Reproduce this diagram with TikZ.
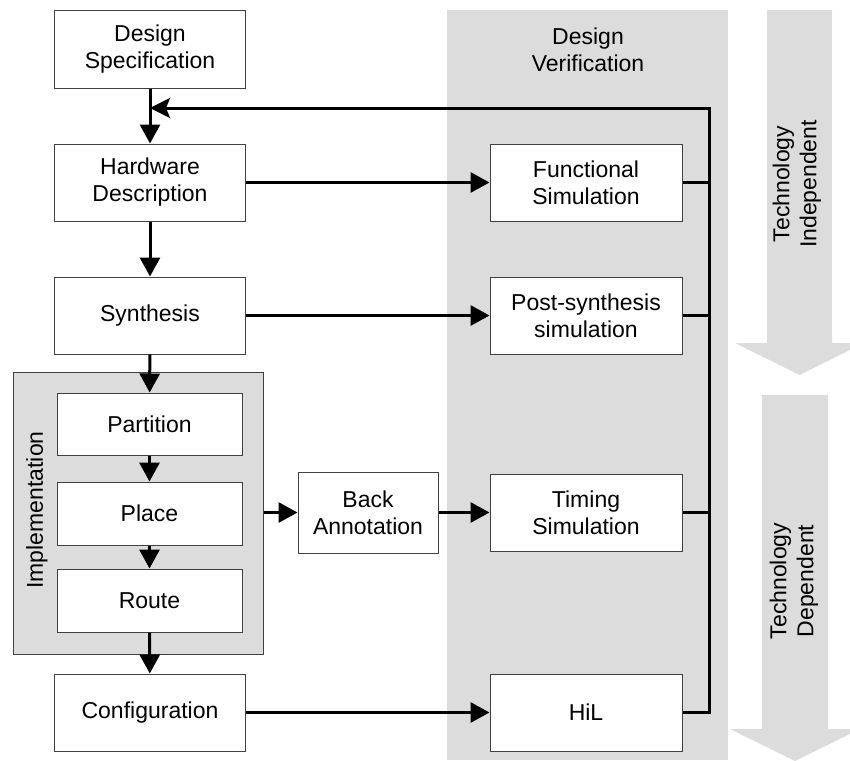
\documentclass[tikz,border=0pt]{standalone}
\usepackage{fontspec}
\setmainfont{Liberation Sans}
\usetikzlibrary{arrows.meta,calc}
\definecolor{panel}{HTML}{DCDCDC}
\definecolor{edge}{HTML}{404040}
\begin{document}
\begin{tikzpicture}[x=1pt,y=-1pt,
  every node/.style={font=\fontsize{23}{27}\selectfont, inner sep=0pt, align=center},
  stagebox/.style={draw=edge, line width=1pt, fill=white, minimum width=#1, minimum height=77pt},
  stagebox/.default=191pt,
  line/.style={line width=3pt},
  conn/.style={line width=3pt, -{Triangle[length=19pt,width=20pt]}},
  back/.style={line width=3pt, -{Stealth[length=20pt,width=20pt,inset=4pt]}}]
\useasboundingbox (0,0) rectangle (850,760);
\clip (0,0) rectangle (850,760);

% verification column
\fill[panel] (447,10) rectangle (728,760);
\node at (588,49.5) {Design\\Verification};

% technology phase arrows
\fill[panel] (767,10) -- (832,10) -- (832,343) -- (864,343) -- (799.5,375)
  -- (735,343) -- (767,343) -- cycle;
\fill[panel] (762,395) -- (828,395) -- (828,729) -- (860,729) -- (795,761)
  -- (730,729) -- (762,729) -- cycle;
\node[rotate=90] at (797,184) {Technology\\Independent};
\node[rotate=90] at (794,581) {Technology\\Dependent};

% design flow
\node[stagebox] (spec) at (150,49.5) {Design\\Specification};
\node[stagebox] (hw) at (150,182.5) {Hardware\\Description};
\node[stagebox] (syn) at (150,315.5) {Synthesis};
\node[draw=edge, line width=1pt, fill=panel, minimum width=250pt, minimum height=282pt]
  (impl) at (138,513) {};
\node[rotate=90] at (37,510) {Implementation};
\node[stagebox=185pt, minimum height=62pt] (part) at (149.5,424) {Partition};
\node[stagebox=185pt, minimum height=63pt] (place) at (149.5,513.5) {Place};
\node[stagebox=185pt, minimum height=63pt] (route) at (149.5,600.5) {Route};
\node[stagebox] (config) at (150,712.5) {Configuration};
\node[stagebox=140pt, minimum height=81pt] (ann) at (368,512.5) {Back\\Annotation};

% verification stages
\node[stagebox=192pt] (func) at (586,182.5) {Functional\\Simulation};
\node[stagebox=192pt] (post) at (586,315.5) {Post-synthesis\\simulation};
\node[stagebox=192pt] (timing) at (586,512.5) {Timing\\Simulation};
\node[stagebox=192pt] (hil) at (586,712.5) {HiL};

% flow connectors
\draw[conn] (spec) -- (hw);
\draw[conn] (hw) -- (syn);
\draw[conn] (syn) -- (part);
\draw[conn] (part) -- (place);
\draw[conn] (place) -- (route);
\draw[conn] (route) -- (config);
\draw[conn] (impl.east |- ann.west) -- (ann.west);
\draw[conn] (ann) -- (timing);
\draw[conn] (hw) -- (func);
\draw[conn] (syn) -- (post);
\draw[conn] (config) -- (hil);

% feedback bus
\coordinate (fb) at (709,108);
\draw[line] (func.east) -- (func.east -| fb);
\draw[line] (post.east) -- (post.east -| fb);
\draw[line] (timing.east) -- (timing.east -| fb);
\draw[back, line join=miter] (hil.east) -| (fb) -- (spec.south |- fb);
\end{tikzpicture}
\end{document}
